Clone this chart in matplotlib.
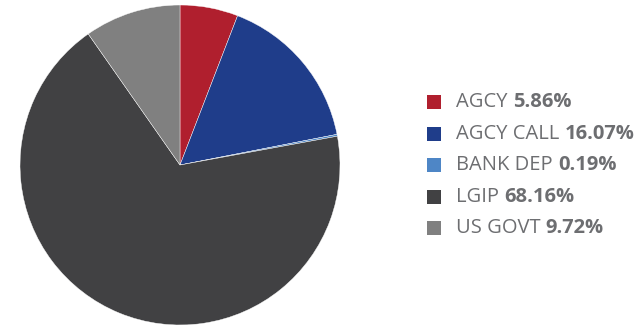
import matplotlib
matplotlib.use("Agg")
import matplotlib.pyplot as plt
from matplotlib.patches import Rectangle

labels = ["AGCY", "AGCY CALL", "BANK DEP", "LGIP", "US GOVT"]
shares = [5.86, 16.07, 0.19, 68.16, 9.72]
colors = ["#B01F2E", "#1F3D8A", "#4E86C6", "#414143", "#808080"]
text_color = "#6D6E71"

W, H = 644, 329
fig = plt.figure(figsize=(W / 100, H / 100), dpi=100)

# pie, drawn clockwise from 12 o'clock
ax = fig.add_axes([20 / W, 4 / H, 320 / W, 320 / H])
ax.pie(shares, colors=colors, startangle=90, counterclock=False,
       wedgeprops=dict(linewidth=0.3, edgecolor="white"))
ax.set_aspect("equal")
ax.set_xlim(-1, 1)
ax.set_ylim(-1, 1)
ax.axis("off")

# legend built by hand so the value can be bold
fig.canvas.draw()
renderer = fig.canvas.get_renderer()
x_box, x_text = 427, 456
y0, dy = 102, 31.5
fs = 14.5
for i, (lab, val, col) in enumerate(zip(labels, shares, colors)):
    yc = y0 + i * dy
    fig.patches.append(Rectangle(((x_box) / W, 1 - (yc + 7) / H), 14 / W, 14 / H,
                                 transform=fig.transFigure, facecolor=col,
                                 edgecolor="none"))
    t = fig.text(x_text / W, 1 - yc / H, lab + " ", fontsize=fs,
                 family="Open Sans", color=text_color, va="center", ha="left")
    bb = t.get_window_extent(renderer)
    fig.text(bb.x1 / W, 1 - yc / H, f"{val:.2f}%", fontsize=fs,
             family="Open Sans", fontweight="bold", color=text_color,
             va="center", ha="left")

fig.savefig("out.png", dpi=100)
